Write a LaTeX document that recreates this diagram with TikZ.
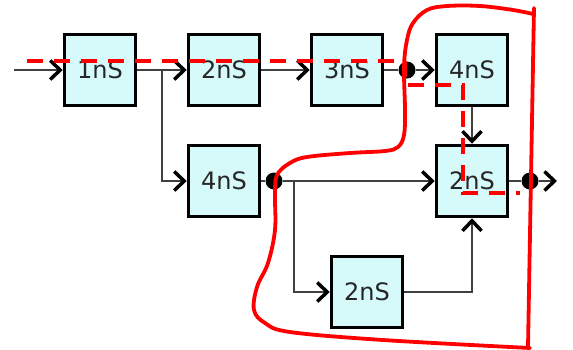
\documentclass[tikz,border=0pt]{standalone}
\usepackage{fontspec}
\setmainfont{DejaVu Sans}
\usepackage{xcolor}
\definecolor{boxfill}{RGB}{214,250,250}
\usetikzlibrary{arrows.meta,positioning}
\begin{document}
\begin{tikzpicture}[
      x=1pt,y=-1pt,
      delay/.style={draw=black,line width=3.5pt,fill=boxfill,minimum size=71pt,inner sep=0pt,
        text=black!85,font=\fontsize{24}{30}\selectfont},
      wire/.style={line width=1.6pt,draw=black!75},
      trans/.style={wire,-{Straight Barb[length=10pt,width=19pt,line width=3.5pt,black]}},
      dot/.style={circle,fill=black,inner sep=0pt,minimum size=17pt},
      cutline/.style={red,line width=3.8pt,line cap=round},
      critpath/.style={red,line width=3.8pt,dash pattern=on 16pt off 11pt},
      ]
      \useasboundingbox (0,0) rectangle (573,349);
      % delay blocks
      \node (b1) at (100,70) [delay] {1nS};
      \node (b2) at (224,70) [delay] {2nS};
      \node (b3) at (347,70) [delay] {3nS};
      \node (b4) at (472,70) [delay] {4nS};
      \node (m4) at (224,181) [delay] {4nS};
      \node (r2) at (472,181) [delay] {2nS};
      \node (l2) at (367,292) [delay] {2nS};
      % dots and free ends
      \node (d1) at (407,70) [dot] {};
      \node (d2) at (274,181) [dot] {};
      \node (d3) at (530,181) [dot] {};
      \coordinate (in) at (14,70);
      \coordinate (out) at (557,181);
      \coordinate (s1) at (162,70);
      \coordinate (s2) at (294,181);

      \draw [trans] (in) -- (b1);
      \draw [trans] (b1) -- (b2);
      \draw [trans] (s1) |- (m4);
      \draw [trans] (b2) -- (b3);
      \draw [wire] (b3) -- (d1);
      \draw [trans] (d1) -- (b4);
      \draw [trans] (b4) -- (r2);
      \draw [wire] (m4) -- (d2);
      \draw [trans] (d2) -- (r2);
      \draw [trans] (s2) |- (l2);
      \draw [trans] (l2) -| (r2);
      \draw [wire] (r2) -- (d3);
      \draw [trans] (d3) -- (out);

      % cut
      \draw [cutline] plot[smooth,tension=0.6] coordinates {
        (533,14) (513,10) (480,6) (447,6) (427,10) (413,23) (407,40) (404,67)
        (405,110) (404,135) (398,147) (385,151) (350,153) (307,157) (290,163)
        (277,175) (275,195) (275,230) (268,263) (257,287) (254,310) (265,323)
        (290,332) (383,340) (530,348)};
      \draw [cutline] (534,8) -- (528,347);
      % critical path
      \draw [critpath] (27,61) -- (405,61) -- (405,85) -- (463,85) -- (463,193) -- (520,193);
\end{tikzpicture}
\end{document}
